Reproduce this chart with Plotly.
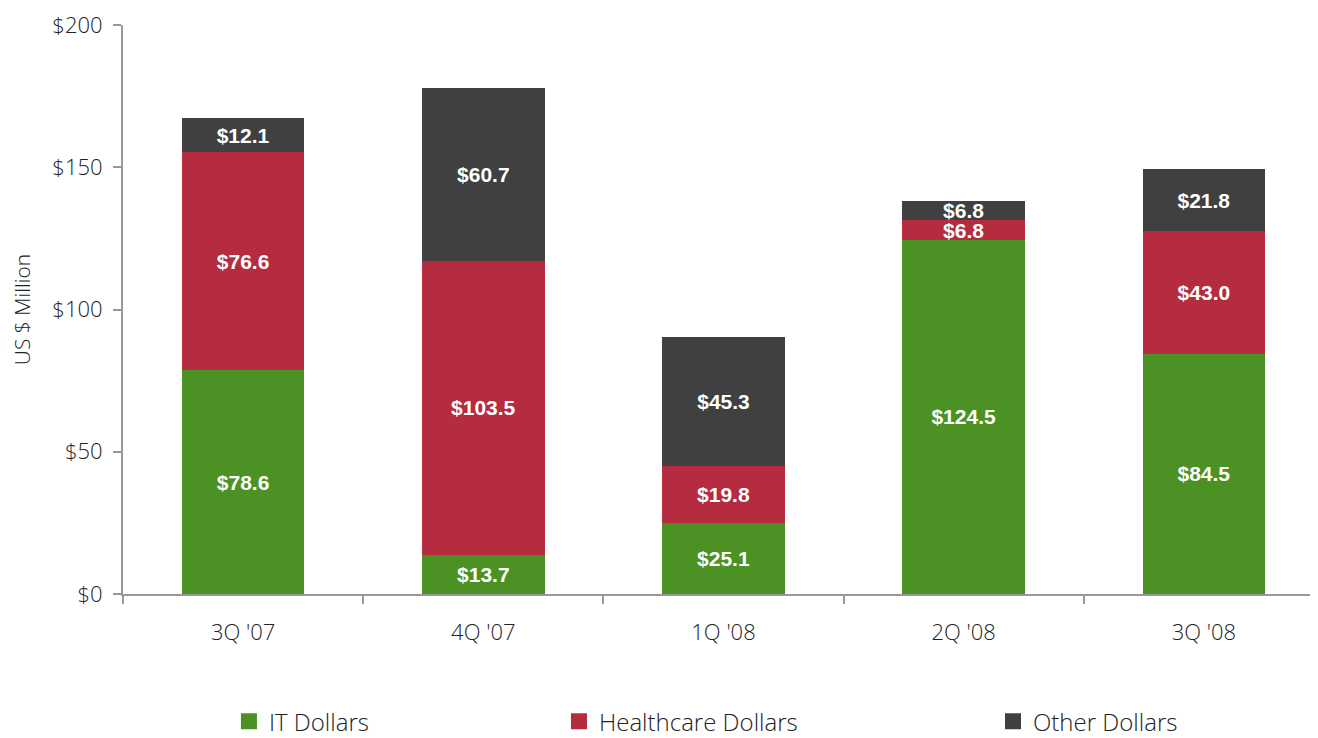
import plotly.graph_objects as go

categories = ["3Q '07", "4Q '07", "1Q '08", "2Q '08", "3Q '08"]
it_dollars = [78.6, 13.7, 25.1, 124.5, 84.5]
healthcare_dollars = [76.6, 103.5, 19.8, 6.8, 43.0]
other_dollars = [12.1, 60.7, 45.3, 6.8, 21.8]
y_ticks = [0, 50, 100, 150, 200]
y_tick_labels = ["$0", "$50", "$100", "$150", "$200"]

series = [
    ("IT Dollars", it_dollars, "#4b9123", "legend", 0.0882),
    ("Healthcare Dollars", healthcare_dollars, "#b52b40", "legend2", 0.363),
    ("Other Dollars", other_dollars, "#404040", "legend3", 0.7244),
]

LIGHT = "Open Sans"
BOLD = "Liberation Sans"
TXT = "#222222"

fig = go.Figure()
for name, vals, color, _, _ in series:
    fig.add_trace(go.Bar(
        x=categories, y=vals, name=name,
        marker=dict(color=color, line=dict(width=0)),
        text=[f"${v:.1f}" for v in vals],
        textposition="inside", insidetextanchor="middle", textangle=0,
        constraintext="none",
        textfont=dict(family=BOLD, size=21, color="white", weight="bold"),
        showlegend=False, hoverinfo="skip",
    ))

for name, vals, color, lg, lx in series:
    fig.add_trace(go.Scatter(
        x=[None], y=[None], mode="markers", name=name,
        marker=dict(symbol="square", size=16, color=color),
        legend=lg, showlegend=True,
    ))

legend_common = dict(
    orientation="h", yanchor="middle", y=-0.2245, xanchor="left",
    font=dict(family=LIGHT, size=24, color=TXT, weight=300),
    bgcolor="rgba(0,0,0,0)",
)

fig.update_layout(
    barmode="stack",
    bargap=0.49,
    width=1318, height=738,
    margin=dict(l=115, r=2, t=17, b=143),
    plot_bgcolor="white", paper_bgcolor="white",
    uniformtext=dict(minsize=21, mode="show"),
    font=dict(family=LIGHT, size=22, color=TXT, weight=300),
    legend=dict(x=0.0882, **legend_common),
    legend2=dict(x=0.363, **legend_common),
    legend3=dict(x=0.7244, **legend_common),
    xaxis=dict(
        automargin=False,
        showline=True, linecolor="#999999", linewidth=2,
        ticks="outside", tickson="boundaries", ticklen=8, tickcolor="#999999", tickwidth=2,
        ticklabelstandoff=18,
        tickfont=dict(family=LIGHT, size=22, color=TXT, weight=300),
        showgrid=False, zeroline=False,
    ),
    yaxis=dict(
        automargin=False,
        range=[0, 200], tickvals=y_ticks, ticktext=y_tick_labels,
        showline=True, linecolor="#999999", linewidth=2,
        ticks="outside", ticklen=8, tickcolor="#999999", tickwidth=2,
        ticklabelstandoff=6, ticklabeloverflow="allow",
        tickfont=dict(family=LIGHT, size=22, color=TXT, weight=300),
        showgrid=False, zeroline=False,
        title=dict(text="US $ Million", font=dict(family=LIGHT, size=21, color=TXT, weight=300), standoff=18),
    ),
)

fig.write_html("out.html")
